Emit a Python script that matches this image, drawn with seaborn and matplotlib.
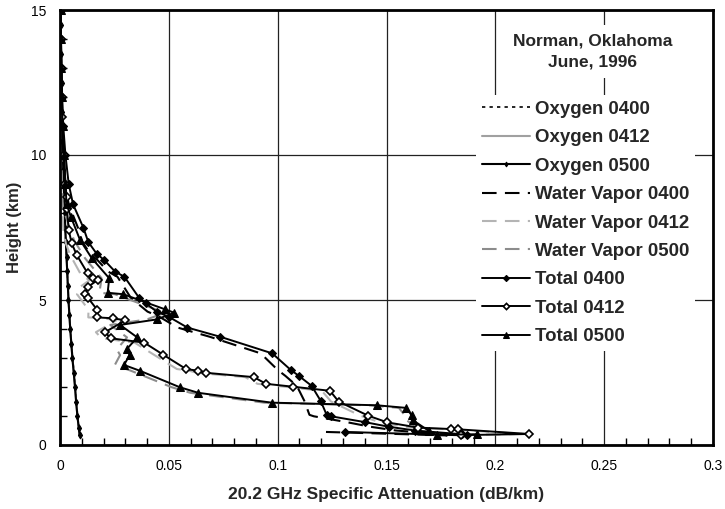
import matplotlib
matplotlib.use("Agg")
import matplotlib.pyplot as plt
import seaborn as sns
import pandas as pd
from matplotlib.ticker import MultipleLocator, FuncFormatter

sns.set_theme(style="white")
plt.rcParams['font.family'] = ['Liberation Sans', 'DejaVu Sans']

# ---------------- data ----------------
oxy_h = [0.35, 0.6, 1.0, 1.5, 2.0, 2.5, 3.0, 3.5, 4.0, 4.5, 5.0, 5.5, 6.0, 6.5, 7.0,
         7.5, 8.0, 8.5, 9.0, 9.5, 10.0, 10.5, 11.0, 11.5, 12.0, 12.5, 13.0, 13.5,
         14.0, 14.5, 15.0]
oxy_0400 = [0.0091, 0.0087, 0.0081, 0.0075, 0.0070, 0.0064, 0.0058, 0.0053, 0.0048,
            0.0043, 0.0039, 0.0036, 0.0033, 0.0030, 0.0027, 0.0024, 0.0022, 0.0019,
            0.0017, 0.0015, 0.0013, 0.0011, 0.0010, 0.0009, 0.0008, 0.0007, 0.0006,
            0.0005, 0.0004, 0.0004, 0.0003]
oxy_0412 = [0.0090, 0.0086, 0.0080, 0.0074, 0.0069, 0.0063, 0.0057, 0.0052, 0.0047,
            0.0043, 0.0039, 0.0036, 0.0033, 0.0030, 0.0027, 0.0024, 0.0022, 0.0019,
            0.0017, 0.0015, 0.0013, 0.0011, 0.0010, 0.0009, 0.0008, 0.0007, 0.0006,
            0.0005, 0.0004, 0.0004, 0.0003]
oxy_0500 = [0.0090, 0.0086, 0.0080, 0.0074, 0.0069, 0.0063, 0.0057, 0.0052, 0.0047,
            0.0043, 0.0039, 0.0036, 0.0033, 0.0030, 0.0027, 0.0024, 0.0022, 0.0019,
            0.0017, 0.0015, 0.0013, 0.0011, 0.0010, 0.0009, 0.0008, 0.0007, 0.0006,
            0.0005, 0.0004, 0.0004, 0.0003]

t0400_h = [15.0, 14.0, 13.0, 12.0, 11.0, 10.0, 9.0, 8.3, 7.5, 7.0, 6.6, 6.37, 5.98, 5.80,
           5.08, 4.89, 4.60, 4.42, 4.05, 3.73, 3.16, 2.59, 2.38, 2.04, 1.53, 1.04, 0.99,
           0.79, 0.63, 0.50, 0.37, 0.33, 0.45]
tot_0400 = [0.0003, 0.0005, 0.0007, 0.0010, 0.0015, 0.0025, 0.0040, 0.0060, 0.0107, 0.0130,
            0.0168, 0.0204, 0.0253, 0.0296, 0.0363, 0.0394, 0.0444, 0.0500, 0.0585, 0.0737,
            0.0975, 0.1060, 0.1098, 0.1156, 0.1197, 0.1225, 0.1245, 0.1400, 0.1510, 0.1630,
            0.1848, 0.1868, 0.1310]
wv_0400 = [0.0000, 0.0001, 0.0001, 0.0002, 0.0005, 0.0012, 0.0023, 0.0040, 0.0082, 0.0103,
           0.0138, 0.0173, 0.0221, 0.0264, 0.0325, 0.0355, 0.0402, 0.0457, 0.0540, 0.0689,
           0.0922, 0.1000, 0.1036, 0.1088, 0.1122, 0.1146, 0.1166, 0.1316, 0.1425, 0.1543,
           0.1758, 0.1778, 0.1222]

t0412_h = [15.0, 14.0, 13.0, 12.0, 11.3, 10.0, 9.0, 8.56, 8.13, 7.41, 6.95, 6.55, 5.92, 5.77,
           5.69, 5.46, 5.20, 5.06, 4.66, 4.40, 4.37, 4.30, 3.89, 3.68, 3.53, 3.11, 2.62,
           2.56, 2.49, 2.34, 2.11, 2.01, 1.87, 1.50, 1.01, 0.78, 0.60, 0.55, 0.54, 0.38, 0.34]
tot_0412 = [0.0003, 0.0004, 0.0006, 0.0009, 0.0010, 0.0018, 0.0025, 0.0030, 0.0032, 0.0040,
            0.0054, 0.0077, 0.0127, 0.0150, 0.0173, 0.0130, 0.0115, 0.0130, 0.0171, 0.0171,
            0.0242, 0.0300, 0.0207, 0.0233, 0.0387, 0.0475, 0.0579, 0.0635, 0.0670, 0.0891,
            0.0946, 0.1070, 0.1240, 0.1280, 0.1416, 0.1504, 0.1646, 0.1796, 0.1830, 0.2156,
            0.1840]
wv_0412 = [0.0000, 0.0000, 0.0000, 0.0001, 0.0001, 0.0005, 0.0008, 0.0011, 0.0011, 0.0015,
           0.0027, 0.0047, 0.0093, 0.0115, 0.0137, 0.0094, 0.0078, 0.0092, 0.0131, 0.0130,
           0.0200, 0.0259, 0.0165, 0.0191, 0.0343, 0.0432, 0.0537, 0.0594, 0.0629, 0.0851,
           0.0907, 0.1032, 0.1203, 0.1245, 0.1380, 0.1470, 0.1612, 0.1762, 0.1796, 0.2122,
           0.1806]

t0500_h = [15.0, 14.0, 13.0, 12.0, 11.0, 10.0, 9.0, 8.3, 7.87, 7.07, 6.44, 5.75, 5.25, 5.20,
           4.68, 4.56, 4.33, 4.14, 3.71, 3.30, 3.10, 2.76, 2.56, 1.99, 1.80, 1.46, 1.37,
           1.28, 1.03, 0.86, 0.48, 0.35, 0.37]
tot_0500 = [0.0003, 0.0004, 0.0006, 0.0009, 0.0012, 0.0018, 0.0025, 0.0030, 0.0050, 0.0092,
            0.0146, 0.0226, 0.0219, 0.0290, 0.0482, 0.0525, 0.0444, 0.0276, 0.0355, 0.0306,
            0.0320, 0.0294, 0.0367, 0.0551, 0.0635, 0.0972, 0.1455, 0.1590, 0.1615, 0.1620,
            0.1696, 0.1730, 0.1914]
wv_0500 = [0.0000, 0.0000, 0.0000, 0.0001, 0.0002, 0.0005, 0.0008, 0.0010, 0.0027, 0.0064,
           0.0115, 0.0191, 0.0181, 0.0252, 0.0439, 0.0482, 0.0399, 0.0231, 0.0308, 0.0261,
           0.0276, 0.0252, 0.0326, 0.0514, 0.0599, 0.0938, 0.1422, 0.1557, 0.1583, 0.1590,
           0.1668, 0.1703, 0.1887]

# ---------------- plot ----------------
fig = plt.figure(figsize=(7.25, 5.09), dpi=100)
ax = fig.add_axes([60 / 725, 64 / 509, 653 / 725, 435 / 509])

series = [
    ("Oxygen 0400", oxy_0400, oxy_h, dict(color="black", lw=1.2, ls=(0, (2, 2.5)))),
    ("Oxygen 0412", oxy_0412, oxy_h, dict(color="#a0a0a0", lw=1.5)),
    ("Oxygen 0500", oxy_0500, oxy_h, dict(color="black", lw=1.5, marker="d", ms=3.5,
                                          mec="black", mfc="black")),
    ("Water Vapor 0400", wv_0400, t0400_h, dict(color="black", lw=1.5, ls=(0, (7, 4)))),
    ("Water Vapor 0412", wv_0412, t0412_h, dict(color="#b4b4b4", lw=1.5, ls=(0, (7, 4)))),
    ("Water Vapor 0500", wv_0500, t0500_h, dict(color="#8c8c8c", lw=1.5, ls=(0, (7, 4)))),
    ("Total 0400", tot_0400, t0400_h, dict(color="black", lw=1.4, marker="D", ms=4.5,
                                          mec="black", mfc="black")),
    ("Total 0412", tot_0412, t0412_h, dict(color="black", lw=1.4, marker="D", ms=4.5,
                                          mec="black", mfc="white", mew=1.2)),
    ("Total 0500", tot_0500, t0500_h, dict(color="black", lw=1.4, marker="^", ms=5.5,
                                          mec="black", mfc="black")),
]

for name, xs, hs, style in series:
    df = pd.DataFrame({"att": xs, "h": hs})
    sns.lineplot(data=df, x="att", y="h", sort=False, estimator=None, ax=ax,
                 label=name, **style)

ax.set_xlim(0, 0.3)
ax.set_ylim(0, 15)
ax.xaxis.set_major_locator(MultipleLocator(0.05))
ax.xaxis.set_minor_locator(MultipleLocator(0.01))
ax.yaxis.set_major_locator(MultipleLocator(5))
ax.yaxis.set_minor_locator(MultipleLocator(1))
ax.xaxis.set_major_formatter(FuncFormatter(lambda v, p: f"{v:g}"))
ax.yaxis.set_major_formatter(FuncFormatter(lambda v, p: f"{v:g}"))
ax.tick_params(which="both", direction="in", bottom=True, left=True, top=False, right=False,
               labelsize=10, colors="black")
ax.tick_params(which="major", length=0, pad=10)
ax.tick_params(which="minor", length=5, width=1)
ax.grid(True, which="major", color="#222222", lw=0.9)
ax.set_axisbelow(True)
for s in ax.spines.values():
    s.set_color("black")
    s.set_linewidth(2)

ax.set_xlabel("20.2 GHz Specific Attenuation (dB/km)", fontsize=12.5, fontweight="bold",
              labelpad=10)
ax.set_ylabel("Height (km)", fontsize=12, fontweight="bold", labelpad=6)

leg = ax.legend(loc="upper left", bbox_to_anchor=(476 / 725, 1 - 95 / 509),
                bbox_transform=fig.transFigure, frameon=True, fancybox=False,
                facecolor="white", edgecolor="none", framealpha=1, fontsize=13.4,
                handlelength=2.6, handletextpad=0.25, labelspacing=0.615,
                borderpad=0.3, borderaxespad=0, markerscale=0.7)
for t in leg.get_texts():
    t.set_fontweight("bold")

fig.text(593 / 725, 1 - 51.5 / 509, "Norman, Oklahoma\nJune, 1996", ha="center", va="center",
         fontsize=12.5, fontweight="bold", linespacing=1.55,
         bbox=dict(facecolor="white", edgecolor="none", pad=6))

fig.savefig("out.png", dpi=100)
